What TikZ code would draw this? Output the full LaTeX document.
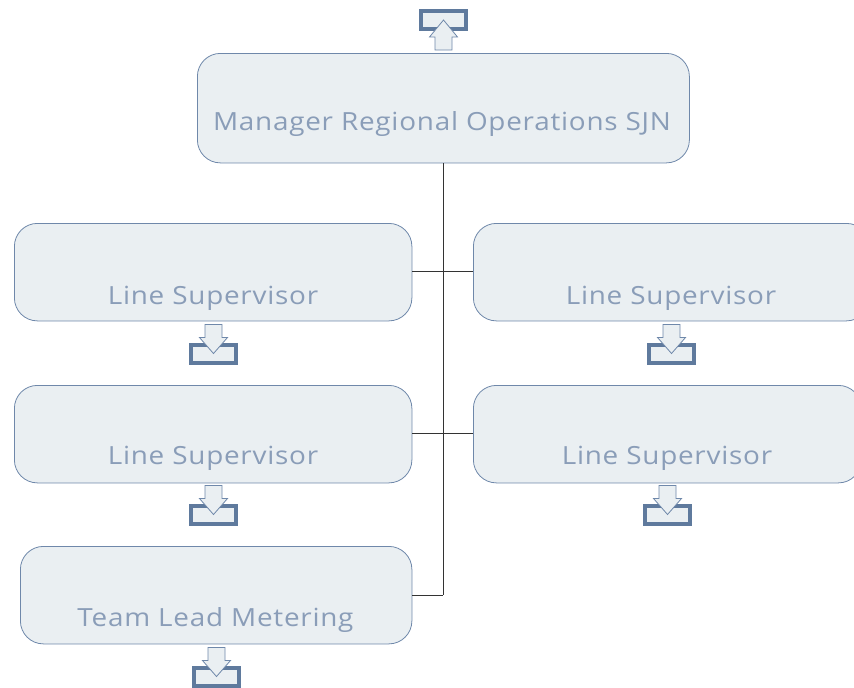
\documentclass[tikz,border=0pt]{standalone}
\usepackage{fontspec}
\setmainfont{DejaVu Sans}
\newfontfamily\boxfont[LetterSpace=3.0,FakeStretch=1.115]{Open Sans}
\definecolor{boxfill}{HTML}{EAEFF2}
\definecolor{boxline}{HTML}{6F88AA}
\definecolor{tray}{HTML}{5F7A9D}
\definecolor{labeltext}{HTML}{8A9DB8}
\tikzset{
  x=1pt,y=-1pt,
  orgbox/.style={draw=boxline,fill=boxfill,line width=0.8pt,rounded corners=23pt,minimum height=#1,inner sep=0pt,anchor=north west},
  boxlabel/.style={text=labeltext,font=\boxfont\fontsize{25}{25}\selectfont,inner sep=0pt,anchor=base},
  link/.style={draw=black!80,line width=0.8pt},
  traybox/.style={draw=tray,fill=boxfill,line width=4pt,minimum width=45pt,minimum height=18pt,inner sep=0pt},
  arrowshape/.style={draw=boxline,fill=boxfill,line width=0.8pt},
  pics/downind/.style={code={
    \node[traybox] at (0,20) {};
    \path[arrowshape] (-8.5,-9.5) -- (8.5,-9.5) -- (8.5,3.5) -- (14,3.5) -- (0,19.5) -- (-14,3.5) -- (-8.5,3.5) -- cycle;
  }},
  pics/upind/.style={code={
    \node[traybox] at (0,-0) {};
    \path[arrowshape] (-8.5,30) -- (8.5,30) -- (8.5,17) -- (14,17) -- (0,0) -- (-14,17) -- (-8.5,17) -- cycle;
  }}
}
\begin{document}
\begin{tikzpicture}
\useasboundingbox (0,0) rectangle (854,688);
\clip (0,0) rectangle (854,688);
\node[orgbox=109.5pt,minimum width=492pt] (mgr) at (197,53) {};
\node[orgbox=97.5pt,minimum width=397.5pt] (ls1) at (14,223) {};
\node[orgbox=97.5pt,minimum width=396pt] (ls2) at (473,223) {};
\node[orgbox=97.5pt,minimum width=397.5pt] (ls3) at (14,385) {};
\node[orgbox=97.5pt,minimum width=388pt] (ls4) at (473,385) {};
\node[orgbox=97.5pt,minimum width=391.5pt] (tl) at (20,546) {};
\coordinate (trunkend) at (mgr.south |- tl.east);
\draw[link] (mgr.south) -- (trunkend);
\draw[link] ([yshift=0.6pt]ls1.east) -- ([yshift=0.6pt]ls2.west);
\draw[link] ([yshift=0.6pt]ls3.east) -- ([yshift=0.6pt]ls4.west);
\draw[link] (tl.east) -- (trunkend);
\node[boxlabel] (t0) at (442,130) {Manager Regional Operations SJN};
\node[boxlabel] (t1) at (213,304) {Line Supervisor};
\node[boxlabel] (t2) at (671,304) {Line Supervisor};
\node[boxlabel] (t3) at (213,464) {Line Supervisor};
\node[boxlabel] (t4) at (667,464) {Line Supervisor};
\node[boxlabel] (t5) at (215.5,626) {Team Lead Metering};
\pic at (443.5,20) {upind};
\pic at (213.5,334) {downind};
\pic at (671.5,334) {downind};
\pic at (213.5,495) {downind};
\pic at (667.5,495) {downind};
\pic at (216.5,657) {downind};
\end{tikzpicture}
\end{document}
